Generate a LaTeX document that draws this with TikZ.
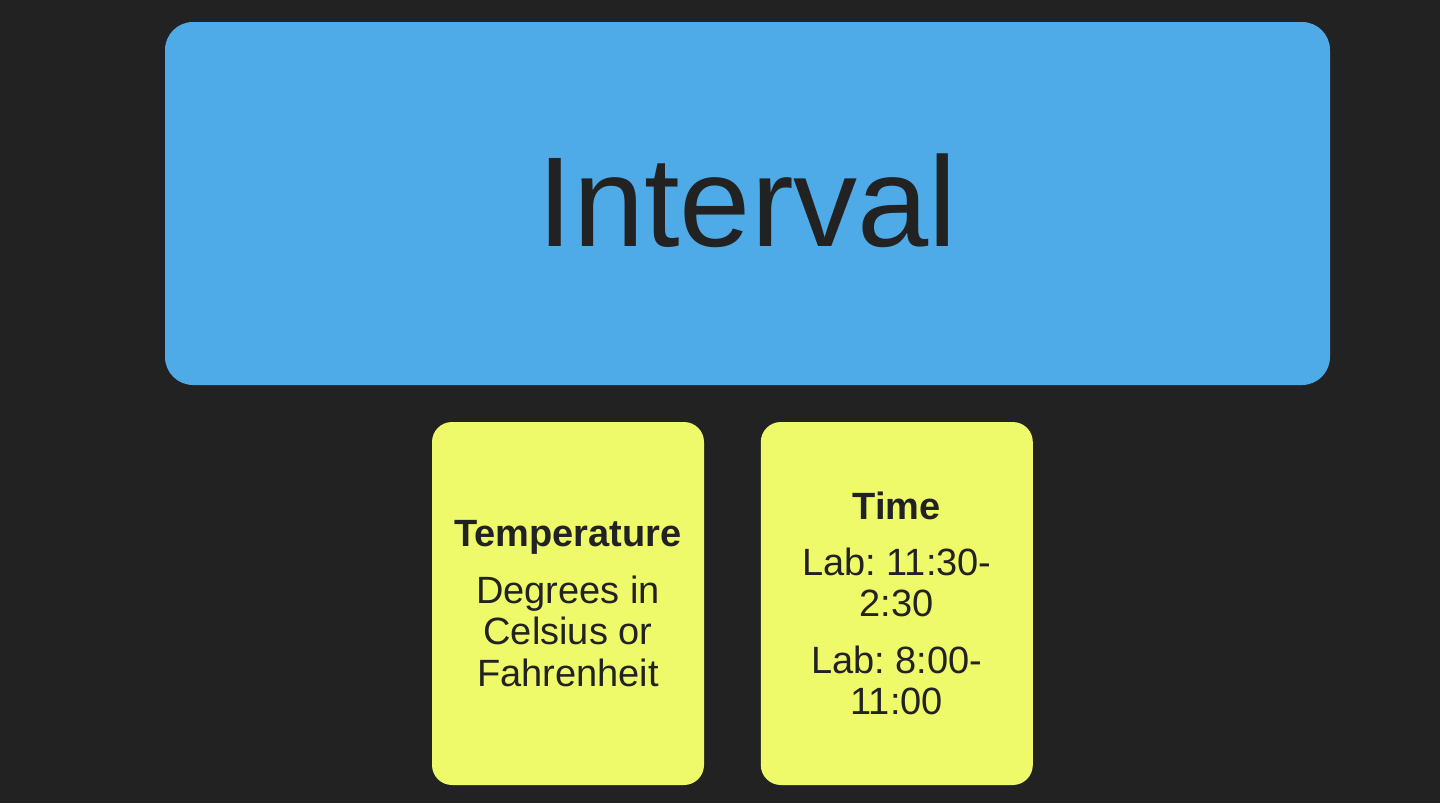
\documentclass[tikz,border=0pt]{standalone}
\usepackage{fontspec}
\setmainfont{Liberation Sans}
\usetikzlibrary{positioning}
\definecolor{bgdark}{HTML}{222222}
\definecolor{skyblue}{HTML}{4FABE8}
\definecolor{paleyellow}{HTML}{EFFA6A}
\definecolor{inkdark}{HTML}{222222}
\frenchspacing

\begin{document}
\begin{tikzpicture}[x=0.5pt,y=-0.5pt,
  bigbox/.style={fill=skyblue,rounded corners=14pt,minimum width=582.5pt,minimum height=181.5pt,text=inkdark,font=\fontsize{64}{70}\selectfont},
  card/.style={fill=paleyellow,rounded corners=10pt,minimum width=136pt,minimum height=181.5pt,text=inkdark,align=center,font=\fontsize{19}{20.75}\selectfont,inner sep=0pt}]

\fill[bgdark] (0,0) rectangle (1440,803);

\node[bigbox] (interval) at (747.5,203.5) {\raisebox{3.5pt}{Interval}};

\node[card] (temp) at (568,603.5) {\textbf{Temperature}\\[7.5pt] Degrees in\\ Celsius or\\ Fahrenheit};
\node[card,right=28pt of temp] (time) {\textbf{Time}\\[7pt] Lab: 11:30-\\ 2:30\\[7.5pt] Lab: 8:00-\\ 11:00};

\end{tikzpicture}
\end{document}
